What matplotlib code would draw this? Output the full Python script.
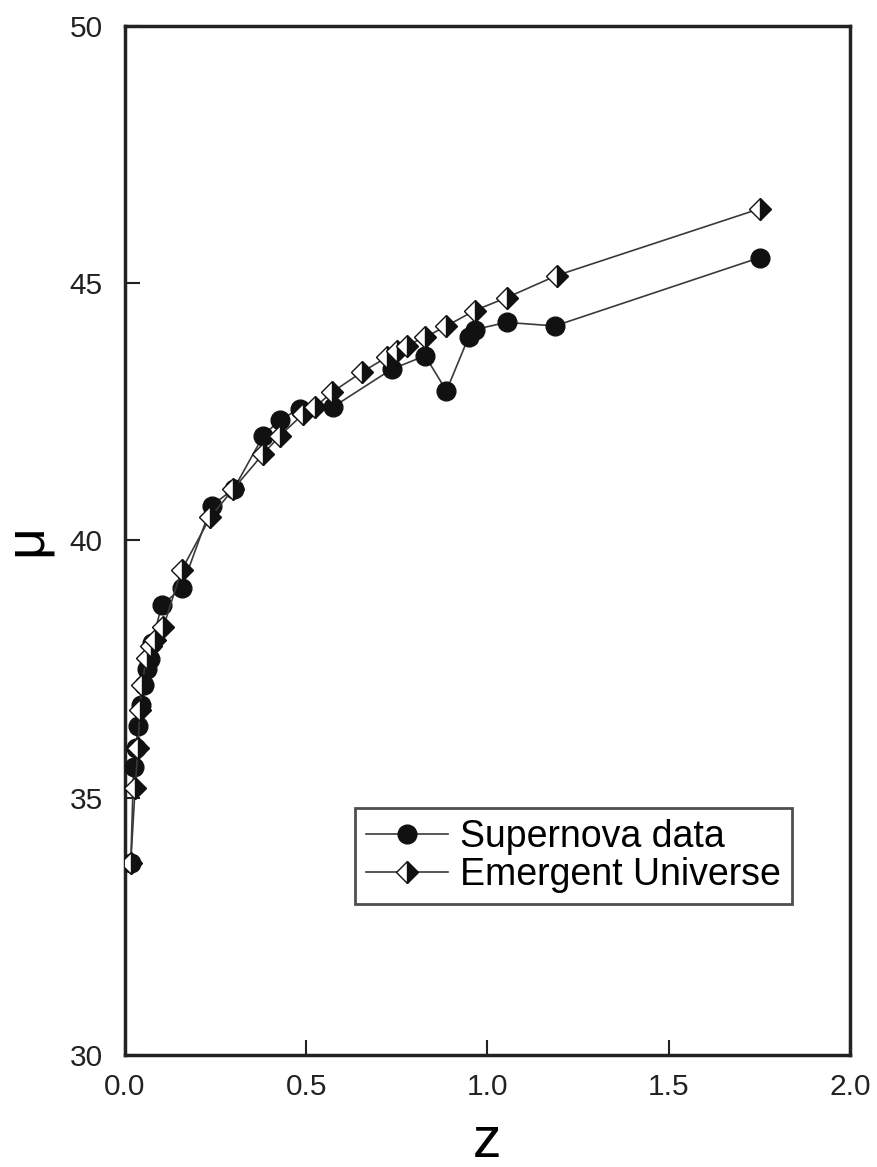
import matplotlib
matplotlib.use("Agg")
import matplotlib.pyplot as plt

plt.rcParams['font.family'] = ['Liberation Sans', 'DejaVu Sans']

# distance modulus vs redshift
sn_z = [0.016, 0.024, 0.030, 0.036, 0.045, 0.052, 0.060, 0.068, 0.075, 0.101,
        0.156, 0.239, 0.300, 0.382, 0.428, 0.483, 0.575, 0.736, 0.828, 0.887,
        0.948, 0.965, 1.053, 1.186, 1.752]
sn_mu = [33.74, 35.60, 35.96, 36.40, 36.80, 37.20, 37.50, 37.70, 38.00, 38.74,
         39.07, 40.68, 41.00, 42.04, 42.35, 42.56, 42.60, 43.33, 43.59, 42.91,
         43.95, 44.10, 44.24, 44.17, 45.50]

eu_z = [0.016, 0.028, 0.036, 0.041, 0.046, 0.060, 0.073, 0.083, 0.106, 0.156,
        0.235, 0.299, 0.382, 0.428, 0.492, 0.524, 0.571, 0.653, 0.722, 0.750,
        0.777, 0.828, 0.887, 0.965, 1.053, 1.191, 1.752]
eu_mu = [33.74, 35.19, 35.97, 36.70, 37.20, 37.72, 37.95, 38.06, 38.32, 39.42,
         40.45, 41.00, 41.69, 42.04, 42.46, 42.59, 42.88, 43.27, 43.56, 43.69,
         43.79, 43.95, 44.17, 44.47, 44.72, 45.15, 46.45]

fig = plt.figure(figsize=(8.77, 11.67), dpi=100)
ax = fig.add_axes([0.1425, 0.096, 0.8265, 0.8817])

line_col = '#3a3a3a'
ax.plot(sn_z, sn_mu, color=line_col, lw=1.2, marker='o', ms=13.5,
        mfc='#111111', mec='#111111', label='Supernova data', zorder=3)
ax.plot(eu_z, eu_mu, color=line_col, lw=1.2, marker='D', ms=11.5,
        fillstyle='right', mfc='#111111', mfcalt='white', mec='#111111',
        mew=1.0, label='Emergent Universe', zorder=4)

ax.set_xlim(0, 2.0)
ax.set_ylim(30, 50)
ax.set_xticks([0.0, 0.5, 1.0, 1.5, 2.0])
ax.set_xticklabels(['0.0', '0.5', '1.0', '1.5', '2.0'])
ax.set_yticks([30, 35, 40, 45, 50])

ax.tick_params(direction='in', length=11, width=1.5, labelsize=21.5,
               colors='#222222')
ax.tick_params(axis='y', pad=16)
ax.tick_params(axis='x', pad=13)
for sp in ax.spines.values():
    sp.set_linewidth(2.5)
    sp.set_color('#222222')

ax.set_xlabel('z', fontsize=41, labelpad=10)
ax.set_ylabel('μ', fontsize=40, labelpad=12)

leg = ax.legend(loc='upper left', bbox_to_anchor=(0.317, 0.240),
                borderaxespad=0, fontsize=27, frameon=True, fancybox=False,
                edgecolor='#222222', handlelength=2.2, handletextpad=0.3,
                borderpad=0.3, labelspacing=0.05)
leg.get_frame().set_linewidth(2.0)

fig.savefig('out.png', dpi=100)
